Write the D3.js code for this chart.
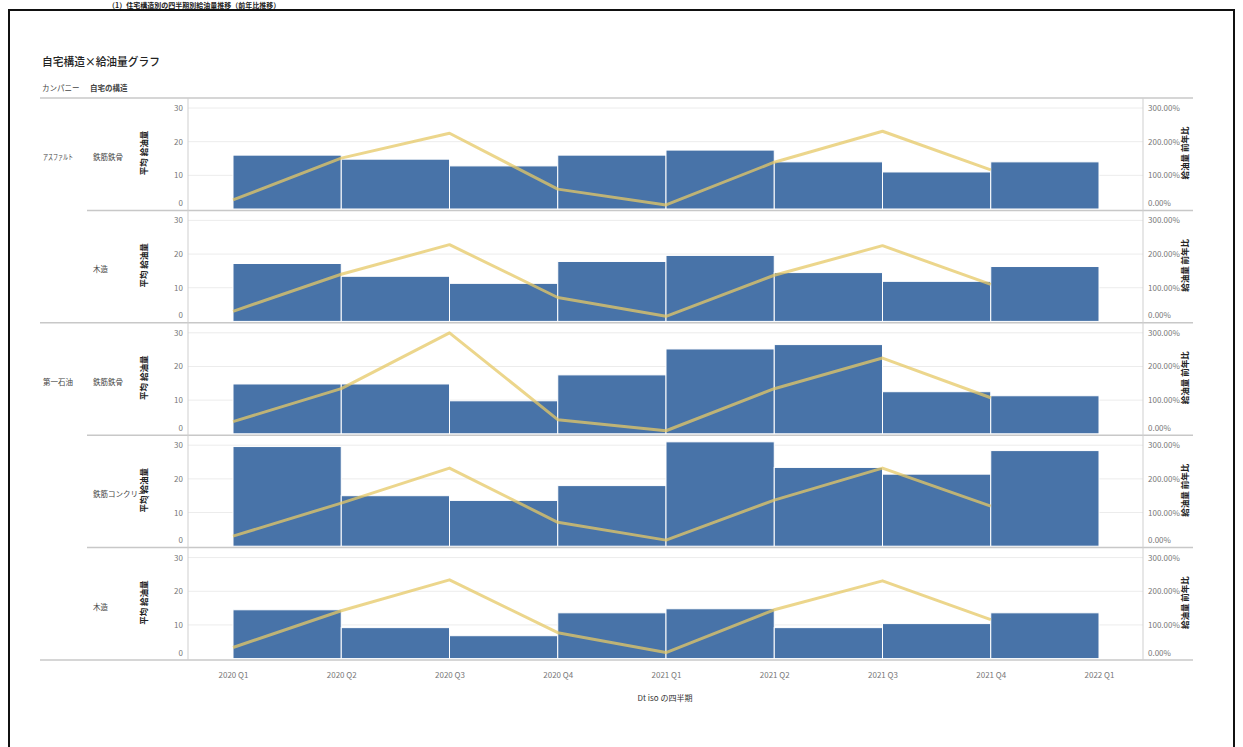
<!DOCTYPE html>
<html>
<head>
<meta charset="utf-8">
<script src="https://cdn.jsdelivr.net/npm/d3@7"></script>
<style>
  html, body { margin: 0; padding: 0; background: #fff; }
  svg { display: block; font-family: "Noto Sans CJK JP", "Noto Sans", sans-serif; }
</style>
</head>
<body>
<svg id="chart" width="1243" height="747"></svg>
<script>
// Quarter tick labels (bars span from one tick to the next)
const quarters = ["2020 Q1", "2020 Q2", "2020 Q3", "2020 Q4", "2021 Q1", "2021 Q2", "2021 Q3", "2021 Q4", "2022 Q1"];

// Row headers
const companies = ["アスファルト", "", "第一石油", "", ""];
const structures = ["鉄筋鉄骨", "木造", "鉄筋鉄骨", "鉄筋コンクリー..", "木造"];
const groupStart = [true, false, true, false, false];

// Average fuel volume per quarter (bars), one array per row
const volAsphaltSteel = [16.0, 14.8, 12.8, 16.0, 17.5, 14.0, 11.0, 14.0];
const volAsphaltWood  = [17.2, 13.4, 11.3, 17.8, 19.6, 14.5, 11.9, 16.3];
const volDaiichiSteel = [14.8, 14.8, 9.8, 17.5, 25.2, 26.5, 12.5, 11.3];
const volDaiichiRC    = [29.6, 15.0, 13.6, 18.0, 31.0, 23.4, 21.4, 28.4];
const volDaiichiWood  = [14.5, 9.2, 6.8, 13.6, 14.8, 9.2, 10.4, 13.6];

// Year-over-year ratio (line), as a fraction (1 = 100%)
const ratioAsphaltSteel = [0.27, 1.51, 2.25, 0.59, 0.12, 1.39, 2.31, 1.16];
const ratioAsphaltWood  = [0.30, 1.40, 2.28, 0.71, 0.15, 1.37, 2.25, 1.10];
const ratioDaiichiSteel = [0.36, 1.34, 3.00, 0.42, 0.09, 1.34, 2.25, 1.07];
const ratioDaiichiRC    = [0.30, 1.28, 2.32, 0.71, 0.18, 1.37, 2.32, 1.19];
const ratioDaiichiWood  = [0.33, 1.42, 2.34, 0.77, 0.18, 1.45, 2.31, 1.16];

const volumes = [volAsphaltSteel, volAsphaltWood, volDaiichiSteel, volDaiichiRC, volDaiichiWood];
const ratios = [ratioAsphaltSteel, ratioAsphaltWood, ratioDaiichiSteel, ratioDaiichiRC, ratioDaiichiWood];

const leftTicks = [0, 10, 20, 30];
const rightTicks = [0, 1, 2, 3];

const svg = d3.select("#chart");

// Caption above the frame
svg.append("text")
  .attr("x", 108).attr("y", 8)
  .attr("font-size", 7).attr("font-weight", "bold").attr("fill", "#222")
  .text("（1）住宅構造別の四半期別給油量推移（前年比推移）");
svg.append("rect")
  .attr("x", 9).attr("y", 10).attr("width", 1225).attr("height", 760)
  .attr("fill", "none").attr("stroke", "#111").attr("stroke-width", 2);

// Title and column headers
svg.append("text").attr("x", 42).attr("y", 66)
  .attr("font-size", 11.5).attr("font-weight", 500).attr("fill", "#222")
  .attr("textLength", 118).attr("lengthAdjust", "spacingAndGlyphs")
  .text("自宅構造×給油量グラフ");
svg.append("text").attr("x", 42).attr("y", 91)
  .attr("font-size", 7.5).attr("fill", "#444").text("カンパニー");
svg.append("text").attr("x", 90).attr("y", 91)
  .attr("font-size", 7.5).attr("fill", "#444").attr("font-weight", "bold").text("自宅の構造");

const plotLeft = 188, plotRight = 1143;
const firstTop = 98, rowH = 112.4;

const x = d3.scalePoint().domain(quarters).range([233, 1099]);

const line = d3.line();

volumes.forEach((vals, r) => {
  const top = firstTop + r * rowH;
  const y = d3.scaleLinear().domain([0, 30]).range([top + 111, top + 10]);
  const y2 = d3.scaleLinear().domain([0, 3]).range([top + 111, top + 10]);

  const g = svg.append("g");

  // clip for this row's plot area
  const clipId = "clip" + r;
  svg.append("clipPath").attr("id", clipId)
    .append("rect").attr("x", plotLeft).attr("y", top + 1)
    .attr("width", plotRight - plotLeft).attr("height", rowH - 1);

  // gridlines
  g.selectAll(".grid").data(leftTicks.slice(1)).join("line")
    .attr("x1", plotLeft).attr("x2", plotRight)
    .attr("y1", d => y(d)).attr("y2", d => y(d))
    .attr("stroke", "#ececec").attr("stroke-width", 1);

  const pg = g.append("g").attr("clip-path", `url(#${clipId})`);

  // bars
  pg.selectAll("rect").data(vals).join("rect")
    .attr("x", (d, i) => x(quarters[i]))
    .attr("width", (d, i) => x(quarters[i + 1]) - x(quarters[i]))
    .attr("y", d => y(d))
    .attr("height", d => y(0) - y(d))
    .attr("fill", "#4873a8")
    .attr("stroke", "#ffffff").attr("stroke-width", 1);

  // ratio line
  pg.append("path")
    .attr("d", line(ratios[r].map((v, i) => [x(quarters[i]), y2(v)])))
    .attr("fill", "none").attr("stroke", "#e6c865").attr("stroke-opacity", 0.75)
    .attr("stroke-width", 3).attr("stroke-linejoin", "round");

  // left axis labels
  g.selectAll(".lt").data(leftTicks).join("text")
    .attr("x", 183).attr("y", d => y(d) + (d === 0 ? -3 : 3))
    .attr("text-anchor", "end").attr("font-size", 8).attr("fill", "#777")
    .text(d => d3.format("d")(d));

  // right axis labels
  g.selectAll(".rt").data(rightTicks).join("text")
    .attr("x", 1148).attr("y", d => y2(d) + (d === 0 ? -3 : 3))
    .attr("font-size", 8).attr("fill", "#777")
    .text(d => d3.format(".2%")(d));

  // axis titles
  g.append("text")
    .attr("transform", `translate(147, ${top + 55}) rotate(-90)`)
    .attr("text-anchor", "middle").attr("font-size", 8.5).attr("font-weight", "bold").attr("fill", "#222")
    .text("平均 給油量");
  g.append("text")
    .attr("transform", `translate(1188, ${top + 55}) rotate(-90)`)
    .attr("text-anchor", "middle").attr("font-size", 8.5).attr("font-weight", "bold").attr("fill", "#222")
    .text("給油量 前年比");

  // row headers
  if (companies[r]) {
    g.append("text").attr("x", 43).attr("y", top + 62)
      .attr("font-size", 7.5).attr("fill", "#444")
      .attr("textLength", 30).attr("lengthAdjust", "spacingAndGlyphs")
      .text(companies[r]);
  }
  g.append("text").attr("x", 93).attr("y", top + 62)
    .attr("font-size", 7.5).attr("fill", "#444").text(structures[r]);

  // row separator above
  g.append("line")
    .attr("x1", groupStart[r] ? 40 : 87).attr("x2", 1193)
    .attr("y1", top).attr("y2", top)
    .attr("stroke", "#c8c8c8").attr("stroke-width", 1.5);
});

// bottom separator
const plotBottom = firstTop + volumes.length * rowH;
svg.append("line").attr("x1", 40).attr("x2", 1193)
  .attr("y1", plotBottom).attr("y2", plotBottom)
  .attr("stroke", "#c8c8c8").attr("stroke-width", 1.5);

// vertical axis lines
[plotLeft, plotRight].forEach(px => {
  svg.append("line").attr("x1", px).attr("x2", px)
    .attr("y1", firstTop).attr("y2", plotBottom)
    .attr("stroke", "#cfcfcf").attr("stroke-width", 1);
});

// x axis
const xAxis = svg.append("g").attr("transform", `translate(0, ${plotBottom})`)
  .call(d3.axisBottom(x).tickSize(0).tickPadding(12));
xAxis.select(".domain").remove();
xAxis.selectAll("text").attr("font-size", 8).attr("fill", "#777")
  .attr("font-family", "'Noto Sans CJK JP', sans-serif");

svg.append("text").attr("x", 665).attr("y", 701)
  .attr("text-anchor", "middle").attr("font-size", 8).attr("fill", "#333")
  .text("Dt iso の四半期");
</script>
</body>
</html>
